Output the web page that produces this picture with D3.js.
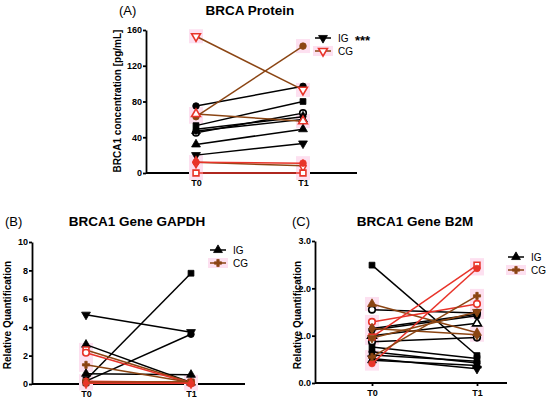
<!DOCTYPE html>
<html lang="en">
<head>
<meta charset="utf-8">
<title>BRCA1 panels</title>
<script src="https://d3js.org/d3.v7.min.js"></script>
<style>
  body { margin: 0; background: #fff; font-family: "Liberation Sans", Arial, sans-serif; }
  .tick text { font-weight: bold; font-size: 9px; }
  .axis path, .axis line { stroke: #000; stroke-width: 1.8; }
</style>
</head>
<body>
<svg id="chart" width="550" height="398"></svg>
<script>
// ---- data ----
const times = ["T0", "T1"];

// Panel A: BRCA protein, pg/mL
const protIG_T0 = [75, 53, 45, 49, 47, 32, 20];
const protIG_T1 = [97, 80, 67, 63, 60, 49, 33];
const protIG_mk = ["circle", "square", "circleOpen", "diamond", "triangle", "triangle", "triDown"];
const protCG_T0 = [153, 63, 66, 12, 12, 0];
const protCG_T1 = [93, 142, 58, 8, 11, 0];
const protCG_mk = ["triDownOpen", "circle", "triangleOpen", "diamondOpen", "circle", "squareOpen"];
const protCG_col = ["brown", "brown", "brown", "brown", "red", "red"];

// Panel B: GAPDH relative quantification
const gapIG_T0 = [4.88, 0.3, 0.2, 2.77, 0.72, 0.12, 0.08];
const gapIG_T1 = [3.65, 7.8, 3.5, 0.1, 0.65, 0.1, 0.08];
const gapIG_mk = ["triDown", "square", "circle", "triangle", "triangle", "circle", "square"];
const gapCG_T0 = [2.4, 2.2, 1.35, 0.2, 0.12, 0.05];
const gapCG_T1 = [0.1, 0.05, 0.1, 0.12, 0.15, 0.05];
const gapCG_mk = ["squareOpen", "circleOpen", "plus", "circle", "square", "diamond"];
const gapCG_col = ["brown", "red", "brown", "red", "brown", "red"];

// Panel C: B2M relative quantification
const b2mIG_T0 = [2.49, 1.55, 1.12, 1.0, 0.87, 0.76, 0.66, 0.59, 0.48, 0.52, 1.15];
const b2mIG_T1 = [0.58, 1.48, 1.42, 1.26, 0.96, 0.52, 0.42, 0.46, 0.37, 0.3, 1.45];
const b2mIG_mk = ["square", "circleOpen", "circle", "triangleOpen", "circleOpen", "square", "circle", "diamond", "triangle", "triDown", "diamond"];
const b2mCG_T0 = [1.67, 1.29, 0.97, 0.41, 0.55, 1.15, 0.95];
const b2mCG_T1 = [1.06, 1.67, 2.49, 2.42, 1.84, 1.02, 1.5];
const b2mCG_mk = ["triangle", "circleOpen", "squareOpen", "circle", "plus", "diamond", "triDown"];
const b2mCG_col = ["brown", "red", "red", "red", "brown", "brown", "brown"];

const COL = { black: "#000", brown: "#8b4513", red: "#e8342a" };

const svg = d3.select("#chart");

function marker(g, kind, cx, cy, color) {
  const open = kind.endsWith("Open");
  const base = kind.replace("Open", "");
  const types = {
    circle: d3.symbolCircle, square: d3.symbolSquare, triangle: d3.symbolTriangle,
    triDown: d3.symbolTriangle, diamond: d3.symbolDiamond, plus: d3.symbolCross
  };
  const size = base === "plus" ? 28 : 34;
  g.append("path")
    .attr("d", d3.symbol(types[base], size)())
    .attr("transform", `translate(${cx},${cy})` + (base === "triDown" ? " rotate(180)" : ""))
    .attr("fill", open ? "#fff" : color)
    .attr("stroke", color)
    .attr("stroke-width", open ? 1.6 : 0.8);
}

function panel(cfg) {
  const g = svg.append("g");
  const y = d3.scaleLinear().domain([0, cfg.ymax]).range([cfg.y0, cfg.y1]);
  const x = d3.scalePoint().domain(times).range([cfg.t0, cfg.t1]);

  // axes
  g.append("g").attr("class", "axis")
    .attr("transform", `translate(${cfg.ax},0)`)
    .call(d3.axisLeft(y).tickValues(cfg.ticks).tickSize(3).tickPadding(1).tickSizeOuter(0));
  const xa = g.append("g").attr("class", "axis")
    .attr("transform", `translate(0,${cfg.y0})`)
    .call(d3.axisBottom(x).tickSize(3).tickPadding(4));
  xa.select(".domain").remove();
  g.append("line").attr("x1", cfg.ax).attr("x2", cfg.axEnd)
    .attr("y1", cfg.y0).attr("y2", cfg.y0)
    .attr("stroke", "#000").attr("stroke-width", 2);

  // CG halos
  cfg.cg.t0.forEach((v, i) => {
    [[times[0], v], [times[1], cfg.cg.t1[i]]].forEach(([t, val]) => {
      g.append("rect").attr("x", x(t) - 7).attr("y", y(val) - 7)
        .attr("width", 14).attr("height", 14).attr("fill", "#fde0f0");
    });
  });

  const series = [
    { d: cfg.ig, color: () => COL.black },
    { d: cfg.cg, color: i => COL[cfg.cg.col[i]] }
  ];
  series.forEach(s => {
    s.d.t0.forEach((v, i) => {
      const c = s.color(i);
      const mc = c === COL.brown && s.d.mk[i].endsWith("Open") ? COL.red : c;
      g.append("line")
        .attr("x1", x(times[0])).attr("y1", y(v))
        .attr("x2", x(times[1])).attr("y2", y(s.d.t1[i]))
        .attr("stroke", c).attr("stroke-width", 1.5);
      marker(g, s.d.mk[i], x(times[0]), y(v), mc);
      marker(g, s.d.mk[i], x(times[1]), y(s.d.t1[i]), mc);
    });
  });

  // titles
  g.append("text").attr("x", cfg.tag[0]).attr("y", cfg.tag[1])
    .attr("font-size", 13).text(cfg.tagText);
  g.append("text").attr("x", cfg.title[0]).attr("y", cfg.title[1])
    .attr("text-anchor", "middle").attr("font-size", 13.5).attr("font-weight", "bold")
    .text(cfg.titleText);
  g.append("text")
    .attr("transform", `translate(${cfg.ylab[0]},${cfg.ylab[1]}) rotate(-90)`)
    .attr("text-anchor", "middle").attr("font-size", 10).attr("font-weight", "bold")
    .text(cfg.ylabText);

  // legend
  const L = cfg.leg;
  [["IG", COL.black, cfg.legMk[0]], ["CG", COL.brown, cfg.legMk[1]]].forEach(([name, c, mk], i) => {
    const ly = L[1] + i * 13;
    if (i === 1) g.append("rect").attr("x", L[0] - 2).attr("y", ly - 5).attr("width", 20).attr("height", 10).attr("fill", "#fde0f0");
    g.append("line").attr("x1", L[0]).attr("x2", L[0] + 16).attr("y1", ly).attr("y2", ly)
      .attr("stroke", c).attr("stroke-width", 1.5);
    marker(g, mk, L[0] + 8, ly, mk.endsWith("Open") ? COL.red : c);
    g.append("text").attr("x", L[0] + 23).attr("y", ly + 4).attr("font-size", 10).text(name);
  });
  if (cfg.stars) g.append("text").attr("x", L[0] + 40).attr("y", L[1] + 7)
    .attr("font-size", 13).attr("font-weight", "bold").text("***");
}

panel({
  ymax: 160, ticks: [0, 40, 80, 120, 160], y0: 173, y1: 30,
  ax: 146, axEnd: 357, t0: 196, t1: 303,
  ig: { t0: protIG_T0, t1: protIG_T1, mk: protIG_mk },
  cg: { t0: protCG_T0, t1: protCG_T1, mk: protCG_mk, col: protCG_col },
  tag: [119, 15], tagText: "(A)", title: [250, 15], titleText: "BRCA Protein",
  ylab: [121, 101], ylabText: "BRCA1 concentration [pg/mL]",
  leg: [315, 38], legMk: ["triDown", "triDownOpen"], stars: true
});

panel({
  ymax: 10, ticks: [0, 2, 4, 6, 8, 10], y0: 384, y1: 242,
  ax: 32, axEnd: 245, t0: 86, t1: 191,
  ig: { t0: gapIG_T0, t1: gapIG_T1, mk: gapIG_mk },
  cg: { t0: gapCG_T0, t1: gapCG_T1, mk: gapCG_mk, col: gapCG_col },
  tag: [5, 226], tagText: "(B)", title: [137, 226], titleText: "BRCA1 Gene GAPDH",
  ylab: [11, 315], ylabText: "Relative Quantification",
  leg: [210, 250], legMk: ["triangle", "plus"], stars: false
});

panel({
  ymax: 3, ticks: [0, 1, 2, 3], y0: 383, y1: 241,
  ax: 315, axEnd: 507, t0: 372, t1: 477,
  ig: { t0: b2mIG_T0, t1: b2mIG_T1, mk: b2mIG_mk },
  cg: { t0: b2mCG_T0, t1: b2mCG_T1, mk: b2mCG_mk, col: b2mCG_col },
  tag: [292, 226], tagText: "(C)", title: [415, 226], titleText: "BRCA1 Gene B2M",
  ylab: [301, 315], ylabText: "Relative Quantification",
  leg: [508, 257], legMk: ["triangle", "plus"], stars: false
});
</script>
</body>
</html>
